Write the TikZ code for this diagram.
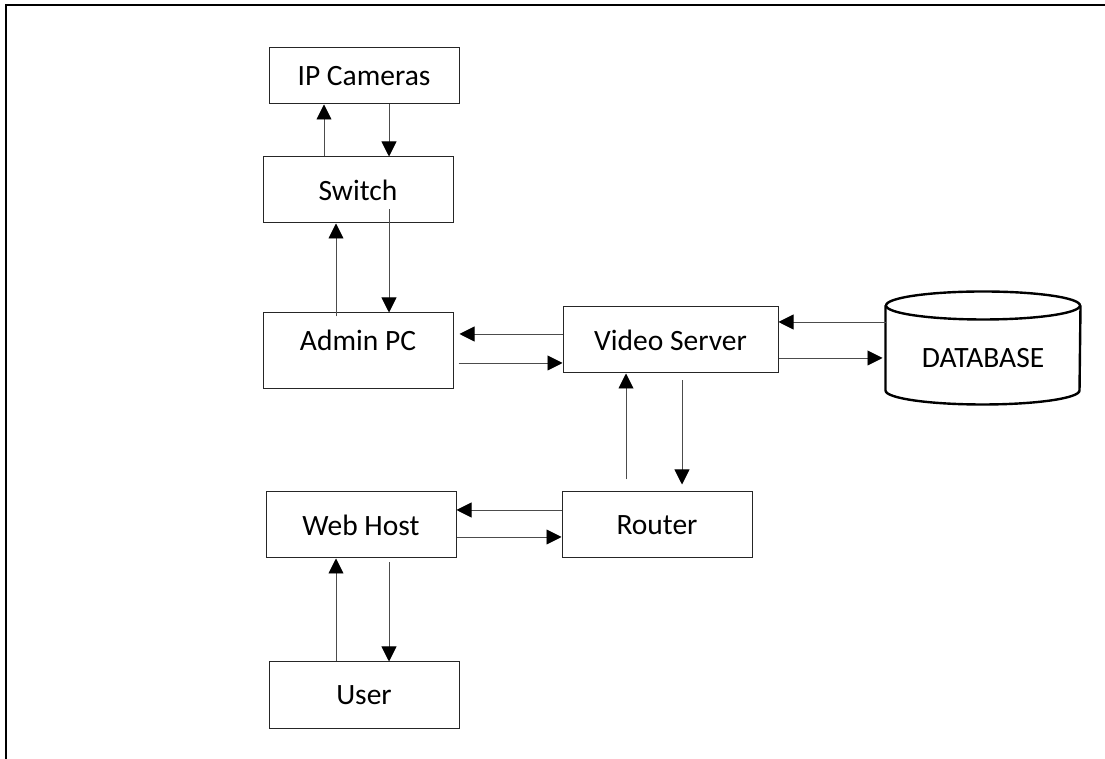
\documentclass[tikz,border=0pt]{standalone}
\usepackage{fontspec}
\setmainfont{Carlito}
\usepackage{tikz}
\usetikzlibrary{arrows.meta}
\usetikzlibrary{calc}

\begin{document}
\begin{tikzpicture}[x=1pt, y=1pt,
    box/.style={draw=black!85, line width=1pt, minimum width=190pt, minimum height=66pt,
        font=\fontsize{29.5}{34}\selectfont, inner sep=0pt},
    arr/.style={draw=black!70, line width=0.9pt,
        -{Triangle[length=15pt, width=15pt, color=black, fill=black]}},
    dbline/.style={line width=2.4pt, black}]

    \useasboundingbox (0,0) rectangle (1105,759);
    \draw[line width=2.4pt] (6,0) -- (6,754) -- (1105,754);

    \node[box, minimum height=56pt] (cam) at (364,683) {IP Cameras};
    \node[box] (sw) at (358,569) {Switch};
    \node[box, minimum height=76pt, text depth=21pt] (admin) at (358,408) {Admin PC};
    \node[box, minimum width=215pt] (vs) at (670.5,419) {Video Server};
    \node[box, draw=none, minimum width=194pt, minimum height=112pt, text height=40pt] (db) at (983,411) {DATABASE};
    \node[box] (web) at (361,234) {Web Host};
    \node[box] (router) at (657,234) {Router};
    \node[box, minimum height=67pt] (user) at (364,63.5) {User};

    % database cylinder
    \draw[dbline] ([yshift=-14]db.north) ellipse (97 and 14);
    \draw[dbline] ([yshift=-14]db.north west) -- ([yshift=14]db.south west)
        arc (180:360:97 and 14) -- ([yshift=-14]db.north east);

    \draw[arr] ([xshift=-34]sw.north) -- ([xshift=-34]sw.north |- cam.south);
    \draw[arr] ([xshift=25]cam.south) -- ([xshift=25]cam.south |- sw.north);

    \draw[arr, shorten <=-4pt] ([xshift=-22]admin.north) -- ([xshift=-22]admin.north |- sw.south);
    \draw[arr] ([xshift=31,yshift=14]sw.south) -- ([xshift=31]sw.south |- admin.north);

    \draw[arr, shorten >=6pt] ([yshift=6]vs.west) -- ([yshift=6]vs.west -| admin.east);
    \draw[arr, shorten <=5pt] ([yshift=-23]vs.west -| admin.east) -- ([yshift=-23]vs.west);

    \draw[arr] ([yshift=18]vs.east -| db.west) -- ([yshift=18]vs.east);
    \draw[arr, shorten >=3pt] ([yshift=-18]vs.east) -- ([yshift=-18]vs.east -| db.west);

    \draw[arr, shorten <=12pt] ([xshift=-31]router.north) -- ([xshift=-31]router.north |- vs.south);
    \draw[arr, shorten <=7pt, shorten >=7pt] ([xshift=25]router.north |- vs.south) -- ([xshift=25]router.north);

    \draw[arr] ([yshift=15]router.west) -- ([yshift=15]router.west -| web.east);
    \draw[arr] ([yshift=-12]router.west -| web.east) -- ([yshift=-12]router.west);

    \draw[arr] ([xshift=-28]user.north) -- ([xshift=-28]user.north |- web.south);
    \draw[arr, shorten <=4pt] ([xshift=25]user.north |- web.south) -- ([xshift=25]user.north);

\end{tikzpicture}
\end{document}
